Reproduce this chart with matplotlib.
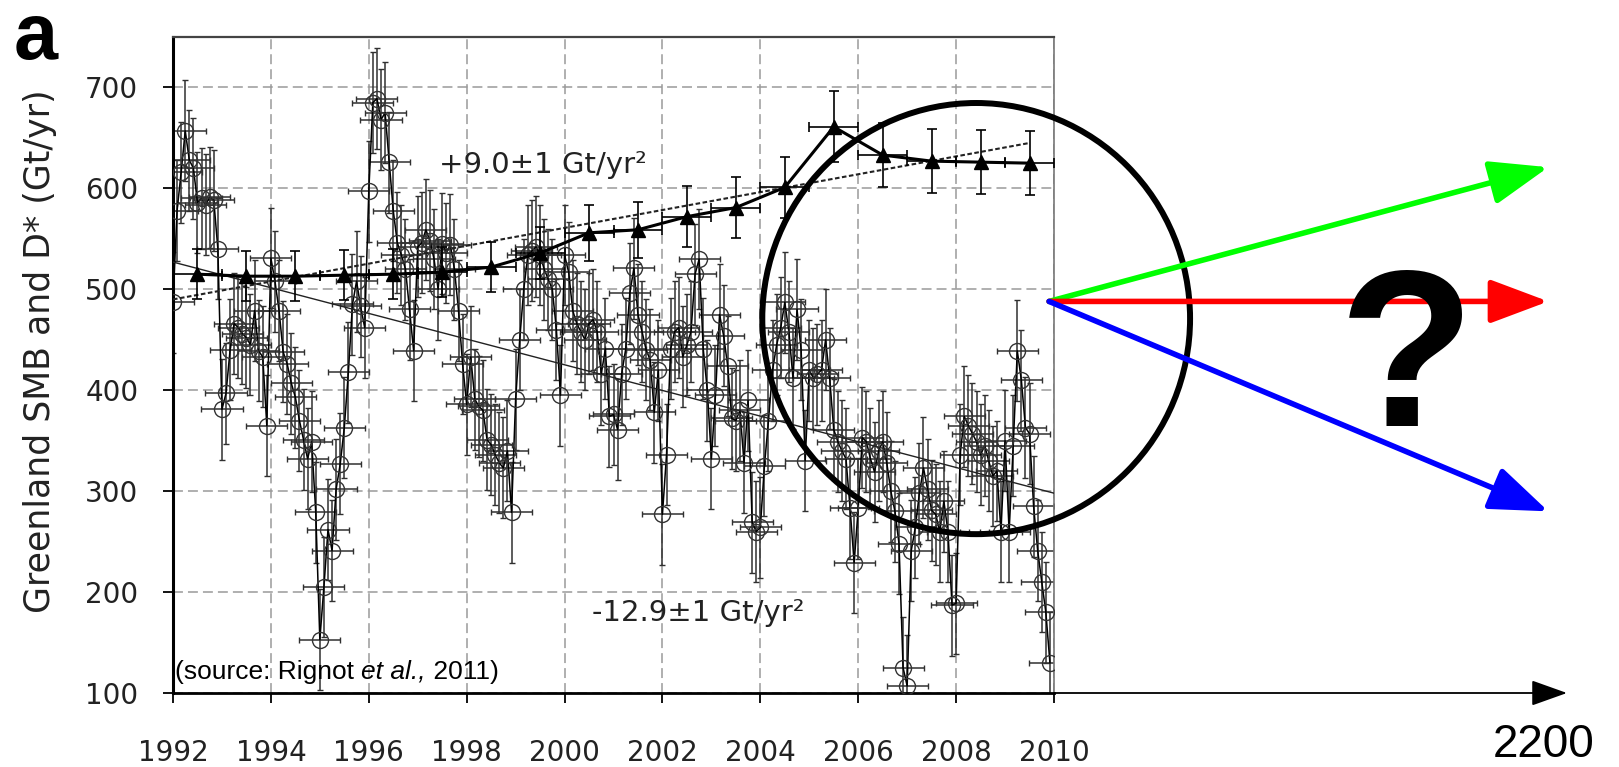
import numpy as np
import matplotlib.pyplot as plt
from matplotlib.patches import Ellipse

# monthly SMB - D values (open circles), Gt/yr, starting Jan 1992
smb_start = 1992.0
smb_values = [
    487, 578, 616, 657, 628, 620, 586, 590, 584, 591, 588, 540,  # 1992
    381, 397, 440, 466, 462, 456, 452, 445, 479, 439, 433, 365,  # 1993
    531, 508, 479, 438, 426, 407, 393, 370, 351, 332, 349, 279,  # 1994
    153, 205, 262, 241, 302, 327, 363, 418, 485, 508, 483, 462,  # 1995
    597, 685, 689, 668, 675, 626, 578, 546, 534, 520, 480, 439,  # 1996
    542, 546, 559, 548, 530, 500, 545, 536, 544, 520, 479, 426,  # 1997
    386, 433, 391, 384, 380, 351, 346, 336, 328, 323, 340, 279,  # 1998
    391, 450, 500, 534, 538, 542, 534, 520, 510, 500, 460, 395,  # 1999
    534, 517, 479, 466, 458, 450, 466, 470, 458, 416, 441, 374,  # 2000
    376, 361, 416, 441, 496, 521, 475, 458, 440, 430, 378, 420,  # 2001
    277, 336, 441, 458, 462, 433, 445, 458, 515, 530, 441, 400,  # 2002
    332, 395, 475, 454, 424, 372, 370, 380, 328, 390, 269, 260,  # 2003
    264, 325, 370, 420, 445, 462, 487, 458, 412, 480, 440, 330,  # 2004
    420, 412, 416, 420, 450, 412, 361, 349, 340, 332, 283, 229,  # 2005
    283, 353, 349, 332, 319, 340, 349, 328, 300, 280, 248, 125,  # 2006
    107, 241, 264, 298, 323, 302, 281, 277, 260, 290, 260, 187,  # 2007
    189, 336, 374, 365, 357, 349, 336, 345, 330, 315, 320, 260,  # 2008
    350, 260, 345, 439, 410, 363, 357, 285, 241, 210, 180, 130,  # 2009
]
smb_err = 50     # Gt/yr
smb_terr = 0.42  # yr

# annual discharge D* (filled triangles)
d_years = [1992.5, 1993.5, 1994.5, 1995.5, 1996.5, 1997.5, 1998.5, 1999.5, 2000.5,
           2001.5, 2002.5, 2003.5, 2004.5, 2005.5, 2006.5, 2007.5, 2008.5, 2009.5]
d_values = [515, 513, 513, 514, 515, 517, 522, 536, 556,
            559, 572, 581, 601, 661, 633, 627, 626, 625]
d_err = [25, 25, 25, 25, 25, 25, 25, 26, 28,
         28, 30, 30, 30, 35, 32, 32, 32, 32]

# linear trends
smb_trend_years = [1992, 2010]
smb_trend_values = [527, 298]
d_trend_years = [1992, 2009.5]
d_trend_values = [490, 645]

# future scenarios past the end of the record
future_start = (2009.9, 488)
future_end = 2020.1
future_values = [621, 488, 280]
future_colors = ['#00ff00', '#ff0000', '#0000ff']

x_ticks = list(range(1992, 2011, 2))
y_ticks = list(range(100, 701, 100))


fig = plt.figure(figsize=(16.19, 7.67), dpi=100)
ax = fig.add_axes([173 / 1619, 1 - 693 / 767, 881 / 1619, 656 / 767])

t = smb_start + np.arange(len(smb_values)) / 12.0

# SMB series
ax.errorbar(t, smb_values, yerr=smb_err, xerr=smb_terr, fmt='none',
            ecolor='#303030', elinewidth=1.1, capsize=2, capthick=1.0, zorder=2)
ax.plot(t, smb_values, '-', color='black', lw=1.1, zorder=3)
ax.plot(t, smb_values, 'o', ms=11.5, mfc='none', mec='#333333', mew=1.0, zorder=4)

# discharge series
ax.errorbar(d_years, d_values, yerr=d_err, xerr=0.5, fmt='-^', color='black',
            lw=2.2, ms=10, elinewidth=1.2, capsize=3.5, capthick=1.2, zorder=6)

# trends
ax.plot(smb_trend_years, smb_trend_values, color='#222222', lw=1.0, zorder=5)
ax.plot(d_trend_years, d_trend_values, color='#222222', lw=1.5,
        dashes=(2.2, 1.2), zorder=5)

ax.text(1997.44, 623, '+9.0±1 Gt/yr²', fontsize=21, color='#222222', va='center')
ax.text(2000.57, 179, '-12.9±1 Gt/yr²', fontsize=21, color='#222222', va='center')

ax.set_xlim(1992, 2010)
ax.set_ylim(100, 750)
ax.set_xticks(x_ticks)
ax.set_yticks(y_ticks)
ax.grid(True, ls=(0, (6.5, 3.3)), color='#9a9a9a', lw=1.1)
ax.set_axisbelow(True)
ax.tick_params(direction='out', length=7, width=1.3, labelsize=20,
               labelcolor='#222222')
ax.tick_params(axis='x', pad=26)
ax.tick_params(axis='y', pad=18)

ax.spines['left'].set_linewidth(2.2)
ax.spines['bottom'].set_linewidth(2.0)
ax.spines['top'].set_color('#444444')
ax.spines['top'].set_linewidth(1.6)
ax.spines['right'].set_color('#777777')
ax.spines['right'].set_linewidth(1.2)

# circle around the recent years
ax.add_patch(Ellipse((2008.41, 471), 2 * 4.37, 2 * 213.6, fill=False,
                     lw=4.3, color='black', clip_on=False, zorder=10))

# extended time axis
ax.annotate('', xy=(2020.48, 100), xytext=(2010, 100), annotation_clip=False,
            arrowprops=dict(arrowstyle='-|>,head_length=1.4,head_width=0.5',
                            color='black', lw=1.3, shrinkA=0, shrinkB=0,
                            mutation_scale=16))
ax.text(2020.0, 37, '2200', fontsize=33, family='Liberation Sans',
        ha='center', va='baseline', clip_on=False)

for v, c in zip(future_values, future_colors):
    ax.annotate('', xy=(future_end, v), xytext=future_start, annotation_clip=False,
                arrowprops=dict(arrowstyle='-|>,head_length=1.2,head_width=0.45',
                                color=c, lw=4, shrinkA=0, shrinkB=0,
                                mutation_scale=30), zorder=12)

ax.text(2017.21, 365, '?', fontsize=160, fontweight='bold', family='Liberation Sans',
        ha='center', va='baseline', clip_on=False, zorder=14)

fig.text(40 / 1619, 1 - 351 / 767, 'Greenland SMB and D* (Gt/yr)', rotation=90,
         ha='center', va='center', fontsize=25, color='#222222')
fig.text(14 / 1619, 1 - 59 / 767, 'a', fontsize=57, fontweight='bold',
         family='Liberation Sans', va='baseline')

# source note, with the italic part placed right after the plain part
renderer = fig.canvas.get_renderer()
x0 = 175
for piece, style in [('(source: Rignot ', 'normal'), ('et al.,', 'italic'),
                     (' 2011)', 'normal')]:
    txt = fig.text(x0 / 1619, 1 - 679 / 767, piece, fontsize=19,
                   family='Liberation Sans', style=style, va='baseline')
    x0 = txt.get_window_extent(renderer).x1

fig.savefig('out.png', dpi=100)
